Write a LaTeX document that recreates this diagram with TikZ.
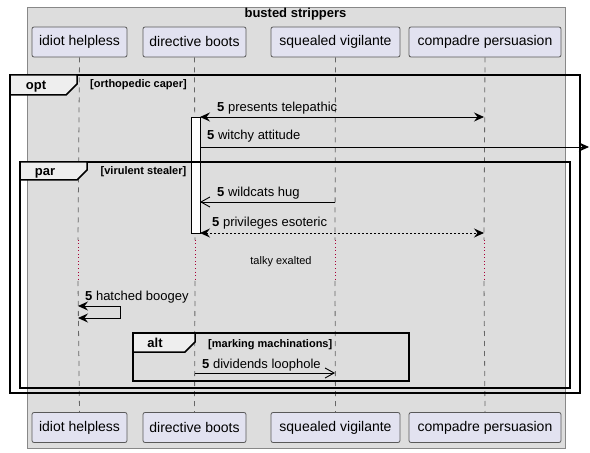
\documentclass[tikz,border=0pt]{standalone}
\usepackage{fontspec}
\setmainfont{Liberation Sans}
\usetikzlibrary{arrows.meta}
\definecolor{boxfill}{HTML}{DDDDDD}
\definecolor{boxdraw}{HTML}{888888}
\definecolor{partfill}{HTML}{E2E2F0}
\definecolor{tabfill}{HTML}{EEEEEE}
\definecolor{delayred}{HTML}{A80036}
\begin{document}
\begin{tikzpicture}[x=1bp,y=-1bp,
  part/.style={draw=black!65, line width=0.8bp, fill=partfill, rounded corners=2bp, minimum height=30bp, inner sep=0pt, font=\fontsize{14bp}{16bp}\selectfont},
  life/.style={draw=black!60, line width=0.8bp, dash pattern=on 5bp off 5bp},
  delay/.style={draw=delayred, line width=0.8bp, dash pattern=on 1bp off 2.5bp},
  msg/.style={draw=black, line width=0.9bp},
  fhead/.style={-{Stealth[length=10bp,width=9bp,inset=3.5bp]}},
  bhead/.style={{Stealth[length=10bp,width=9bp,inset=3.5bp]}-{Stealth[length=10bp,width=9bp,inset=3.5bp]}},
  ohead/.style={-{Straight Barb[length=9bp,width=10bp,line width=0.9bp]}},
  mtext/.style={anchor=base west, inner sep=0pt, font=\fontsize{13bp}{15bp}\selectfont},
  frame/.style={draw=black, line width=1.5bp},
  tab/.style={draw=black, line width=1.5bp, fill=tabfill},
  ftitle/.style={anchor=base, inner sep=0pt, font=\fontsize{13bp}{15bp}\selectfont\bfseries},
  fcond/.style={anchor=base west, inner sep=0pt, font=\fontsize{11bp}{13bp}\selectfont\bfseries}
]
\useasboundingbox (0,0) rectangle (590,453);
\fill[white] (0,0) rectangle (590,453);
% outer box
\draw[fill=boxfill, draw=boxdraw, line width=0.8bp] (27,7) rectangle (565,448);
\node[anchor=base, inner sep=0pt, font=\fontsize{13bp}{15bp}\selectfont\bfseries] (title) at (295.5,18) {busted strippers};

% participants
\node[part, minimum width=95bp] (pA) at (79.5,42) {idiot helpless};
\node[part, minimum width=103bp] (pB) at (194.5,42) {directive boots};
\node[part, minimum width=129bp] (pC) at (335.5,42) {squealed vigilante};
\node[part, minimum width=152bp] (pD) at (485,42) {compadre persuasion};
\node[part, minimum width=95bp] (qA) at (79.5,427.5) {idiot helpless};
\node[part, minimum width=103bp] (qB) at (194.5,427.5) {directive boots};
\node[part, minimum width=129bp] (qC) at (335.5,427.5) {squealed vigilante};
\node[part, minimum width=152bp] (qD) at (485,427.5) {compadre persuasion};

% lifelines with delay
\foreach \p/\q/\x in {pA/qA/78, pB/qB/195, pC/qC/335, pD/qD/484}{
  \coordinate (\p d1) at (\x,240);
  \coordinate (\p d2) at (\x,281);
  \draw[life] (\p.south) -- (\p d1);
  \draw[delay] (\p d1) -- (\p d2);
  \draw[life] (\p d2) -- (\q.north);
}

% opt frame
\draw[frame] (10,75) rectangle (580,393);
\draw[tab] (10,75) -- (77,75) -- (77,84) -- (66,95) -- (10,95) -- cycle;
\node[ftitle] (optl) at (36,90) {opt};
\node[fcond] (optc) at (90,88) {[orthopedic caper]};

% activation
\draw[fill=white, draw=black, line width=0.9bp] (191,117) rectangle (200,233);
\coordinate (actTop) at (200,117);
\coordinate (actBot) at (200,233);

% message 1
\coordinate (m1b) at (484,117);
\draw[msg, bhead] (actTop) -- (m1b);
\node[mtext] (t1) at (217,112) {\textbf{5} presents telepathic};

% message 2
\coordinate (m2a) at (200,147);
\coordinate (m2b) at (589,147);
\draw[msg, fhead] (m2a) -- (m2b);
\node[mtext] (t2) at (207,140) {\textbf{5} witchy attitude};

% par frame
\draw[frame] (20,162) rectangle (570,388);
\draw[tab] (20,162) -- (87,162) -- (87,170) -- (77,180) -- (20,180) -- cycle;
\node[ftitle] (parl) at (45,176) {par};
\node[fcond] (parc) at (100.5,175) {[virulent stealer]};

% message 3
\coordinate (m3a) at (335,202);
\coordinate (m3b) at (200,202);
\draw[msg, ohead] (m3a) -- (m3b);
\node[mtext] (t3) at (217,197) {\textbf{5} wildcats hug};

% message 4
\coordinate (m4b) at (484,233);
\draw[msg, bhead, dash pattern=on 2bp off 2bp] (actBot) -- (m4b);
\node[mtext] (t4) at (212,227) {\textbf{5} privileges esoteric};

% delay text
\node[anchor=center, inner sep=0pt, font=\fontsize{11bp}{13bp}\selectfont] (dly) at (281,262) {talky exalted};

% self message
\coordinate (s1) at (78,306);
\coordinate (s2) at (120,306);
\coordinate (s3) at (120,318);
\coordinate (s4) at (78,318);
\draw[msg, bhead] (s1) -- (s2) -- (s3) -- (s4);
\node[mtext] (t5) at (85,300) {\textbf{5} hatched boogey};

% alt frame
\draw[frame] (133,333) rectangle (409,381);
\draw[tab] (133,333) -- (195,333) -- (195,342) -- (185,352) -- (133,352) -- cycle;
\node[ftitle] (altl) at (155,347) {alt};
\node[fcond] (altc) at (208,347) {[marking machinations]};

% message 6
\coordinate (m6a) at (195,373);
\coordinate (m6b) at (335,373);
\draw[msg, ohead] (m6a) -- (m6b);
\node[mtext] (t6) at (202,368) {\textbf{5} dividends loophole};
\end{tikzpicture}
\end{document}
